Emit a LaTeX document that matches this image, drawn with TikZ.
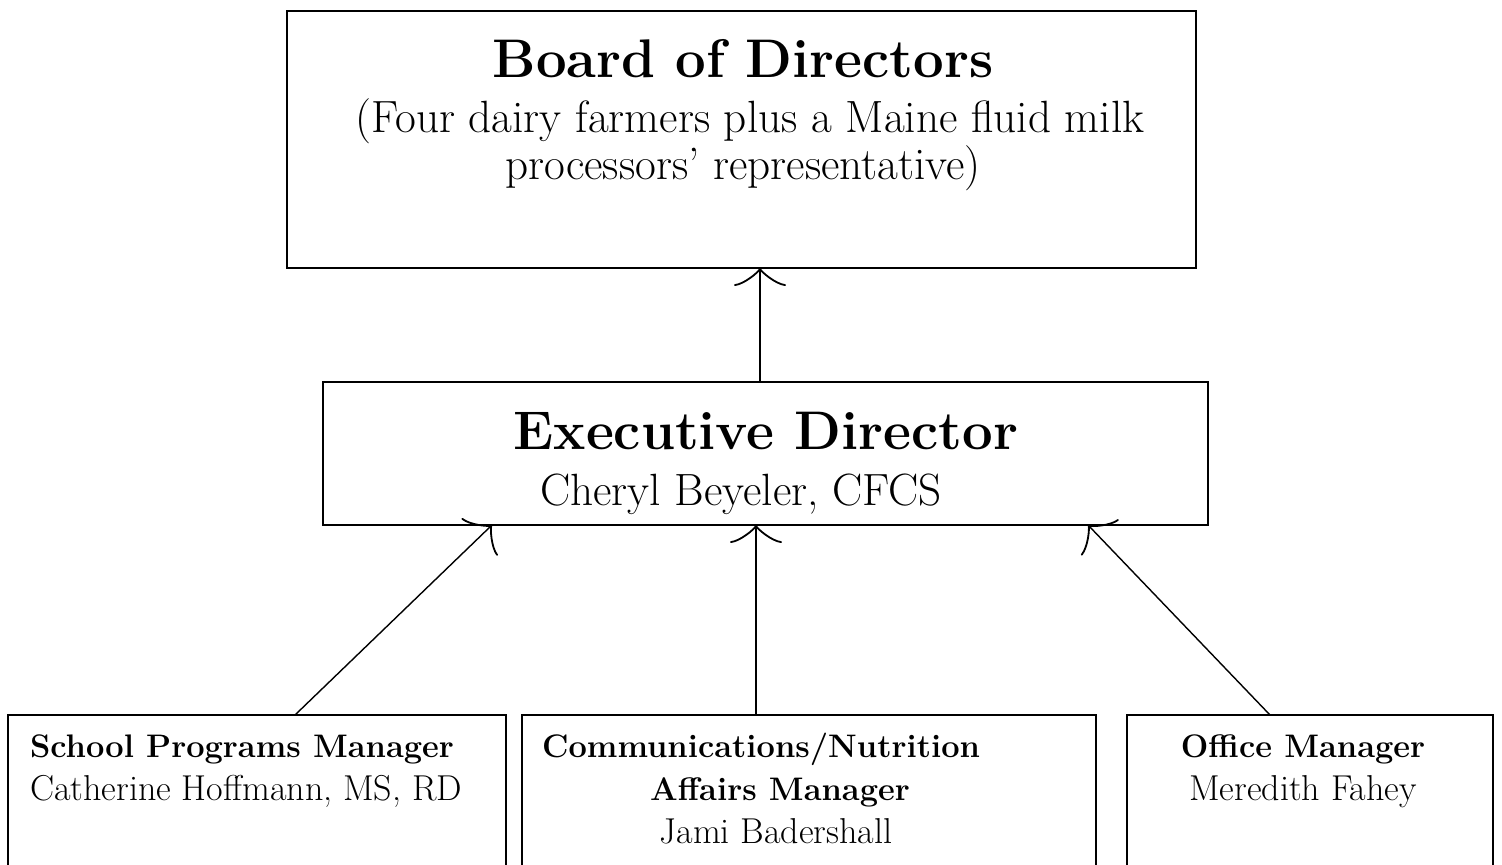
\documentclass[tikz,border=0pt]{standalone}
\usetikzlibrary{arrows.meta}
\begin{document}
\begin{tikzpicture}[x=0.5pt,y=-0.5pt,
  box/.style={draw, line width=1pt, inner sep=0pt, outer sep=0pt, anchor=north west},
  arr/.style={line width=0.7pt, -{Classical TikZ Rightarrow[length=9pt,width=26pt,line width=0.9pt]}},
  txt/.style={inner sep=0pt, outer sep=0pt, anchor=base},
  big/.style={font=\fontsize{27.2}{31}\selectfont\bfseries},
  mid/.style={font=\fontsize{22.6}{26}\selectfont},
  sbold/.style={font=\fontsize{16.3}{19}\selectfont\bfseries},
  sreg/.style={font=\fontsize{18}{21}\selectfont}]
\useasboundingbox (0,0) rectangle (1502,865);
% boxes
\node[box, minimum width=454.5pt, minimum height=128.5pt] (board) at (287,11) {};
\node[box, minimum width=442.5pt, minimum height=71.5pt] (exec) at (323,382) {};
\node[box, minimum width=249pt, minimum height=80pt] (school) at (8,715) {};
\node[box, minimum width=287pt, minimum height=80pt] (comm) at (522,715) {};
\node[box, minimum width=183pt, minimum height=80pt] (office) at (1127,715) {};
% texts
\node[txt, big] (t1) at (743,78) {Board of Directors};
\node[txt, mid] (t2) at (750,133) {(Four dairy farmers plus a Maine fluid milk};
\node[txt, mid] (t3) at (743,180) {processors' representative)};
\node[txt, big] (t4) at (766,450) {Executive Director};
\node[txt, mid] (t5) at (741,505) {Cheryl Beyeler, CFCS};
\node[txt, sbold, anchor=base west] (t6) at (30,757) {School Programs Manager};
\node[txt, sreg, anchor=base west] (t7) at (30,800) {Catherine Hoffmann, MS, RD};
\node[txt, sbold] (t8) at (761,757) {Communications/Nutrition};
\node[txt, sbold] (t9) at (780,800) {Affairs Manager};
\node[txt, sreg] (t10) at (776,843) {Jami Badershall};
\node[txt, sbold] (t11) at (1303,757) {Office Manager};
\node[txt, sreg] (t12) at (1303,800) {Meredith Fahey};
% connector x positions
\coordinate (xa) at (760,0);
\coordinate (xs) at (295,0);
\coordinate (xe1) at (492,0);
\coordinate (xm) at (756,0);
\coordinate (xo) at (1270,0);
\coordinate (xe3) at (1088,0);
\draw[arr] (exec.north -| xa) -- (board.south -| xa);
\draw[arr] (school.north -| xs) -- (exec.south -| xe1);
\draw[arr] (comm.north -| xm) -- (exec.south -| xm);
\draw[arr] (office.north -| xo) -- (exec.south -| xe3);
\end{tikzpicture}
\end{document}
